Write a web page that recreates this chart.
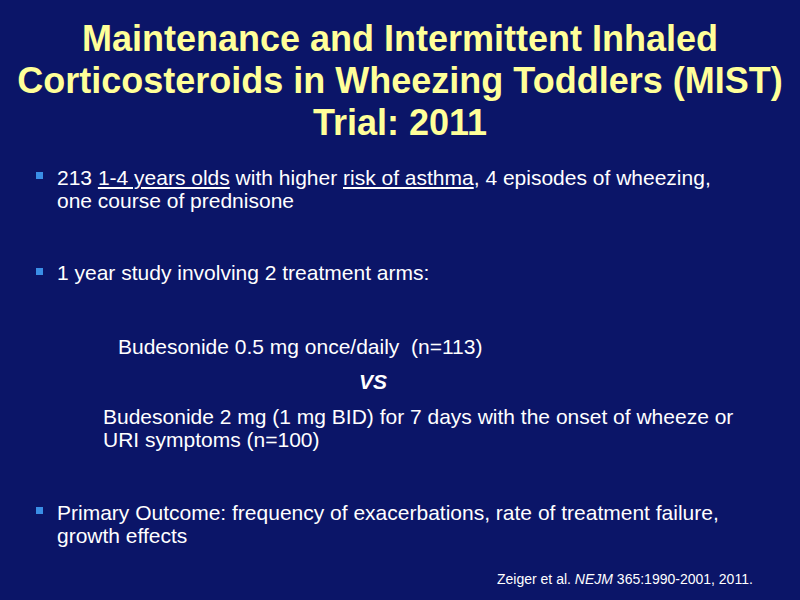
<!DOCTYPE html>
<html><head><meta charset="utf-8">
<script src="https://cdn.jsdelivr.net/npm/chart.js@4"></script>
<style>
html,body{margin:0;padding:0}
body{width:800px;height:600px;background:#0b1568;font-family:"Liberation Sans",Arial,sans-serif;color:#fff;position:relative;overflow:hidden}
.t{position:absolute;left:0;width:800px;text-align:center;color:#ffff99;font-weight:bold;font-size:36px;line-height:42px;top:18px}
.p{position:absolute;font-size:21px;line-height:23px;white-space:nowrap}
.b{position:absolute;width:7px;height:7px;background:#3a8ee6}
u{text-decoration:underline}
</style></head><body>
<div class="t">Maintenance and Intermittent Inhaled<br>Corticosteroids in Wheezing Toddlers (MIST)<br>Trial: 2011</div>
<div class="b" style="left:36px;top:172px"></div>
<div class="p" style="left:57px;top:166px">213 <u>1-4 years olds</u> with higher <u>risk of asthma</u>, 4 episodes of wheezing,<br>one course of prednisone</div>
<div class="b" style="left:36px;top:268px"></div>
<div class="p" style="left:57px;top:261px">1 year study involving 2 treatment arms:</div>
<div class="p" style="left:118px;top:335px">Budesonide 0.5 mg once/daily&nbsp; (n=113)</div>
<div class="p" style="left:359px;top:370px;font-style:italic;font-weight:bold">VS</div>
<div class="p" style="left:103px;top:405px">Budesonide 2 mg (1 mg BID) for 7 days with the onset of wheeze or<br>URI symptoms (n=100)</div>
<div class="b" style="left:36px;top:507px"></div>
<div class="p" style="left:57px;top:501px">Primary Outcome: frequency of exacerbations, rate of treatment failure,<br>growth effects</div>
<div class="p" style="left:497px;top:568px;font-size:14px">Zeiger et al. <i>NEJM</i> 365:1990-2001, 2011.</div>
</body></html>
